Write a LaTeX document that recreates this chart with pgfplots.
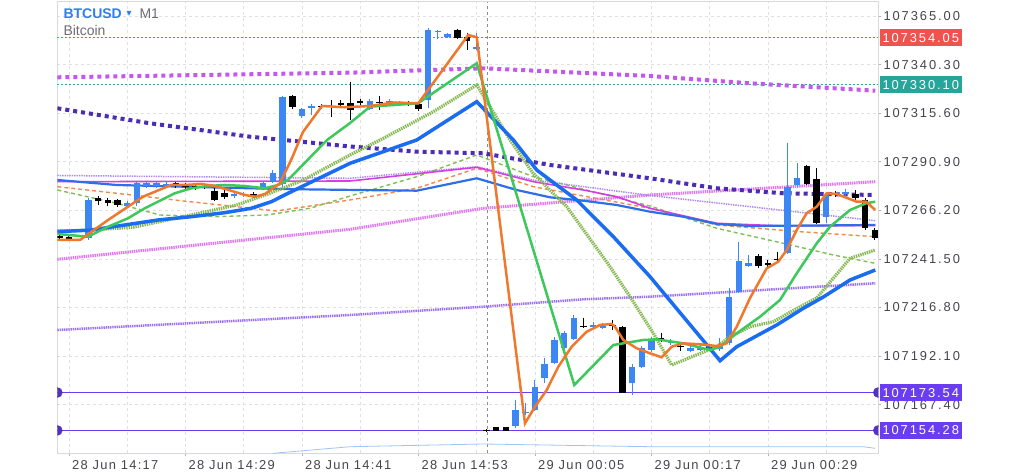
\documentclass[border=0pt]{standalone}
\usepackage{pgfplots}
\pgfplotsset{compat=1.18}
\usepackage{fontspec}
\setmainfont{Liberation Sans}
\newfontfamily\pricefont[LetterSpace=15]{Liberation Sans}
\newfontfamily\timefont[LetterSpace=10]{Liberation Sans}
\newfontfamily\symfont{DejaVu Sans}
\definecolor{cblue}{HTML}{3D87F5}
\definecolor{corange}{HTML}{F0782D}
\definecolor{cgreen}{HTML}{3CC85A}
\definecolor{cgreendot}{HTML}{86B850}
\definecolor{cbluethick}{HTML}{1A6CF0}
\definecolor{cbluethin}{HTML}{2E6FE8}
\definecolor{cmagthin}{HTML}{D43FE0}
\definecolor{clav}{HTML}{AE86F0}
\definecolor{cordash}{HTML}{F08A4B}
\definecolor{cgrdash}{HTML}{7DBF55}
\definecolor{cindigo}{HTML}{4B2CB5}
\definecolor{cmagdot}{HTML}{C655F2}
\definecolor{cpink}{HTML}{DE78EE}
\definecolor{cpurpdot}{HTML}{9C6FF5}
\definecolor{cred}{HTML}{EF5350}
\definecolor{cteal}{HTML}{26A69A}
\definecolor{cpurple}{HTML}{6A3DF0}
\definecolor{clblue}{HTML}{9FC4F7}
\definecolor{tcol}{HTML}{45454D}
\definecolor{tgray}{HTML}{6E6E73}
\definecolor{tblue}{HTML}{2F7EF5}
\setlength{\fboxsep}{3pt}
\newcommand\lab[2]{\colorbox{#1}{\textcolor{white}{\rule[-1pt]{0pt}{11pt}#2}}}
% price offset transformation (keeps full precision of the 107xxx.xx prices)
\makeatletter
\def\btctrafo#1{\pgfutil@in@{Y}{#1}%
  \ifpgfutil@in@\btcfromfpu#1\relax\else\edef\pgfmathresult{\fpeval{#1-107000}}\fi}
\def\btcfromfpu#1Y#2e#3]#4\relax{\edef\pgfmathresult{\fpeval{#2e#3-107000}}}
\makeatother
% candle: t, open, high, low, close
\newcommand\cu[5]{\addplot[cblue,line width=1pt,forget plot] coordinates {(#1,#3) (#1,#4)};
\addplot[cblue,line width=6.5pt,forget plot] coordinates {(#1,#2) (#1,#5)};}
\newcommand\cd[5]{\addplot[black,line width=1pt,forget plot] coordinates {(#1,#3) (#1,#4)};
\addplot[black,line width=6.5pt,forget plot] coordinates {(#1,#2) (#1,#5)};}
\begin{document}
\begin{tikzpicture}
\fill[white] (0pt,0pt) rectangle (1024pt,473pt);
\useasboundingbox (0pt,0pt) rectangle (1024pt,473pt);
\begin{axis}[
 at={(57.3pt,19.7pt)}, anchor=south west,
 scale only axis, width=821pt, height=451.6pt,
 xmin=-1.205, xmax=83.364,
 ymin=107142.64, ymax=107372.27,
 y coord trafo/.code={\btctrafo{#1}},
 axis line style={draw=black!15, line width=0.8pt},
 xtick={0,12,24,36,48,60,72},
 xticklabels={28 Jun 14:17,28 Jun 14:29,28 Jun 14:41,28 Jun 14:53,29 Jun 00:05,29 Jun 00:17,29 Jun 00:29},
 minor xtick={6,18,30,42,54,66,78},
 ytick={107167.40,107192.10,107216.80,107241.50,107266.20,107290.90,107315.60,107340.30,107365.00},
 yticklabels={107167.40,107192.10,107216.80,107241.50,107266.20,107290.90,107315.60,107340.30,107365.00},
 xtick pos=bottom, ytick pos=right, yticklabel pos=right,
 tick align=outside, major tick length=3pt, minor tick length=0pt,
 tick style={draw=black!30, line width=0.6pt},
 grid=both,
 major grid style={draw=black!12, dash pattern=on 3pt off 3pt, line width=0.6pt},
 minor grid style={draw=black!12, dash pattern=on 3pt off 3pt, line width=0.6pt},
 xticklabel style={font=\timefont\fontsize{12.9}{14}\selectfont, text=tcol, anchor=north west, inner sep=0pt, xshift=3pt, yshift=-4pt},
 yticklabel style={font=\pricefont\fontsize{12.9}{14}\selectfont, text=tcol, anchor=west, inner sep=0pt, xshift=2pt},
 extra y ticks={107354.05,107330.10,107173.54,107154.28},
 extra y tick labels={\lab{cred}{107354.05},\lab{cteal}{107330.10},\lab{cpurple}{107173.54},\lab{cpurple}{107154.28}},
 extra y tick style={grid=none, major tick length=0pt, yticklabel style={xshift=-1pt}},
 clip marker paths=true,
]
% horizontal levels
\addplot[cred, line width=1pt, dash pattern=on 2pt off 2pt] coordinates {(-1.205,107354.05) (83.364,107354.05)};
\addplot[cteal, line width=1pt, dash pattern=on 2pt off 2pt] coordinates {(-1.205,107330.10) (83.364,107330.10)};
\addplot[black!45, line width=0.8pt, dash pattern=on 3pt off 3pt] coordinates {(43.06,107142.64) (43.06,107372.27)};
% slow averages
\addplot[cpink, line width=3pt, dash pattern=on 1.4pt off 0.8pt] coordinates {(-1.2,107241.29) (28.95,107256.54) (42.68,107267.22) (59.85,107273.98) (83.05,107280.74)};
\addplot[cpurpdot, line width=2.5pt, dash pattern=on 1.4pt off 0.8pt] coordinates {(-1.2,107205.34) (28.95,107212.96) (42.68,107217.18) (52.98,107220.94) (59.85,107222.27) (83.05,107229.08)};
\addplot[cmagdot, line width=4pt, dash pattern=on 4pt off 4pt] coordinates {(-1.2,107333.83) (28.95,107336.17) (42.68,107338.41) (59.85,107334.49) (70.15,107330.78) (83.05,107327.02)};
\addplot[cindigo, line width=4pt, dash pattern=on 4pt off 4pt] coordinates {(-1.2,107318.07) (8.34,107310.44) (18.64,107303.63) (28.95,107298.65) (35.82,107296.00) (42.68,107295.19) (49.55,107289.24) (59.85,107282.47) (66.72,107277.39) (73.58,107274.85) (83.05,107273.98)};
\addplot[clav, line width=1.5pt, dash pattern=on 1.4pt off 1pt] coordinates {(-1.2,107283.90) (28.95,107282.47) (42.00,107288.37) (47.83,107281.61) (59.85,107273.73) (83.05,107260.92)};
\addplot[cordash, line width=1.4pt, dash pattern=on 4pt off 3pt] coordinates {(-1.2,107278.20) (4.91,107274.85) (11.77,107270.93) (17.27,107268.03) (21.40,107265.85) (28.95,107271.44) (35.82,107277.39) (42.00,107287.56) (47.83,107278.20) (52.98,107273.47) (59.85,107267.22) (66.72,107258.73) (75.30,107255.32) (83.05,107252.78)};
\addplot[cgrdash, line width=1.4pt, dash pattern=on 4pt off 3pt] coordinates {(-1.2,107276.52) (4.91,107269.76) (9.37,107263.81) (15.21,107262.95) (20.36,107263.81) (24.82,107267.22) (28.95,107273.47) (35.82,107283.29) (42.00,107294.32) (47.83,107283.29) (59.85,107268.39) (66.72,107257.05) (73.58,107249.42) (78.73,107243.47) (83.05,107239.25)};
\addplot[cmagthin, line width=1.6pt] coordinates {(-1.2,107280.74) (28.95,107281.10) (42.00,107288.07) (47.83,107280.74) (52.98,107276.52) (56.42,107273.12) (59.85,107267.22) (66.72,107259.59) (73.58,107258.22) (83.05,107258.47)};
\addplot[cbluethin, line width=2.2pt] coordinates {(-1.2,107281.61) (4.91,107279.07) (11.77,107278.20) (18.64,107277.39) (23.79,107276.88) (35.82,107276.17) (42.00,107282.47) (46.12,107276.52) (49.55,107272.81) (52.98,107271.08) (56.42,107268.90) (59.85,107265.49) (63.28,107262.95) (66.72,107259.24) (70.15,107258.22) (83.05,107258.73)};
\addplot[clblue, line width=0.8pt] coordinates {(21.0,107142.50) (21.73,107142.94) (28.95,107145.99) (42.68,107147.37) (59.85,107145.99) (81.79,107145.99) (83.05,107145.18)};
% levels with handles
\addplot[cpurple, line width=1.5pt, mark=*, mark size=4.5pt, mark options={fill=cpurple!80!black, draw=cpurple!80!black}] coordinates {(-1.205,107173.54) (83.364,107173.54)};
\addplot[cpurple, line width=1.5pt, mark=*, mark size=4.5pt, mark options={fill=cpurple!80!black, draw=cpurple!80!black}] coordinates {(-1.205,107154.28) (83.364,107154.28)};
% candles
\cd{-1}{107252.88}{107253.64}{107251.10}{107251.86}
\cd{0}{107252.60}{107253.64}{107251.10}{107251.80}
\cu{2}{107252.12}{107272.46}{107251.10}{107271.44}
\cd{3}{107272.20}{107273.47}{107268.90}{107270.68}
\cd{4}{107271.19}{107272.46}{107268.39}{107269.66}
\cd{5}{107271.44}{107271.95}{107267.88}{107268.90}
\cu{6}{107268.39}{107270.93}{107267.37}{107269.91}
\cu{7}{107269.66}{107280.59}{107268.39}{107279.83}
\cu{8}{107278.56}{107280.59}{107277.54}{107279.83}
\cu{9}{107278.40}{107280.80}{107277.60}{107279.90}
\cu{10}{107278.50}{107281.00}{107277.50}{107279.80}
\cd{11}{107279.83}{107280.59}{107277.54}{107278.56}
\cd{12}{107279.07}{107280.08}{107277.03}{107278.05}
\cd{13}{107278.56}{107279.58}{107276.52}{107277.54}
\cd{14}{107278.30}{107279.60}{107277.00}{107278.00}
\cd{15}{107276.17}{107277.54}{107270.93}{107271.44}
\cd{16}{107275.15}{107276.52}{107271.95}{107272.81}
\cu{17}{107273.22}{107275.51}{107272.46}{107274.49}
\cu{18}{107273.80}{107275.30}{107273.00}{107274.40}
\cd{19}{107274.49}{107275.51}{107272.46}{107273.22}
\cu{20}{107277.39}{107281.10}{107276.52}{107279.93}
\cu{21}{107280.74}{107286.69}{107280.08}{107285.02}
\cu{22}{107279.58}{107324.32}{107277.54}{107323.82}
\cd{23}{107324.32}{107324.83}{107317.71}{107318.58}
\cu{24}{107314.15}{107318.22}{107313.14}{107317.56}
\cu{25}{107318.22}{107320.26}{107314.66}{107319.24}
\cd{26}{107319.40}{107320.26}{107317.71}{107319.00}
\cd{27}{107319.30}{107322.29}{107313.80}{107318.90}
\cd{28}{107320.92}{107322.29}{107318.73}{107319.59}
\cd{29}{107320.76}{107331.60}{107312.12}{107317.20}
\cd{30}{107321.93}{107322.80}{107319.75}{107320.61}
\cu{31}{107317.56}{107322.80}{107317.20}{107321.93}
\cd{32}{107321.40}{107324.32}{107317.20}{107321.00}
\cu{33}{107320.26}{107322.80}{107319.24}{107321.78}
\cu{34}{107320.00}{107322.00}{107319.50}{107321.00}
\cd{35}{107321.00}{107321.80}{107319.20}{107320.00}
\cd{36}{107320.26}{107321.27}{107316.70}{107317.56}
\cu{37}{107322.29}{107358.90}{107318.22}{107357.88}
\cu{38}{107356.87}{107357.88}{107353.31}{107357.53}
\cu{39}{107354.48}{107356.36}{107353.82}{107355.85}
\cd{40}{107357.88}{107358.39}{107353.31}{107353.66}
\cd{41}{107354.48}{107356.36}{107347.71}{107352.44}
\cu{42}{107348.07}{107356.51}{107347.71}{107349.09}
\cd{43}{107154.74}{107154.99}{107153.72}{107153.98}
\cd{44}{107155.86}{107156.01}{107153.98}{107154.13}
\cd{45}{107155.86}{107156.01}{107153.98}{107154.13}
\cu{46}{107156.52}{107169.74}{107155.50}{107164.65}
\cu{47}{107162.88}{107168.21}{107162.11}{107163.64}
\cu{48}{107164.65}{107179.91}{107164.15}{107176.50}
\cu{49}{107180.77}{107191.10}{107178.38}{107187.89}
\cu{50}{107188.71}{107201.78}{107188.04}{107200.25}
\cu{51}{107196.03}{107204.83}{107195.16}{107203.96}
\cu{52}{107200.61}{107212.96}{107200.25}{107211.28}
\cd{53}{107207.60}{107211.44}{107206.35}{107207.20}
\cu{54}{107206.71}{107209.40}{107205.84}{107207.88}
\cu{55}{107206.35}{107208.89}{107205.84}{107207.88}
\cd{56}{107208.13}{107210.42}{107205.33}{107207.37}
\cd{57}{107206.71}{107207.37}{107173.30}{107173.45}
\cu{58}{107178.23}{107188.05}{107172.28}{107186.67}
\cu{59}{107186.67}{107197.20}{107186.01}{107196.03}
\cu{60}{107195.16}{107201.78}{107194.15}{107200.61}
\cd{61}{107201.11}{107203.81}{107199.23}{107200.00}
\cu{62}{107198.72}{107200.76}{107197.71}{107199.74}
\cd{63}{107197.20}{107198.22}{107194.66}{107196.70}
\cu{64}{107194.91}{107197.20}{107194.15}{107196.18}
\cu{65}{107195.16}{107197.71}{107194.66}{107196.69}
\cd{66}{107196.60}{107197.40}{107195.00}{107195.80}
\cu{67}{107195.52}{107201.27}{107194.66}{107197.71}
\cu{68}{107198.57}{107226.69}{107197.71}{107222.27}
\cu{69}{107224.81}{107250.24}{107224.15}{107240.57}
\cu{70}{107237.88}{107243.47}{107237.37}{107239.56}
\cd{71}{107242.96}{107243.98}{107236.86}{107237.88}
\cd{72}{107239.56}{107240.93}{107237.37}{107238.39}
\cd{73}{107241.40}{107245.00}{107239.91}{107241.00}
\cu{74}{107244.64}{107300.58}{107243.98}{107278.20}
\cu{75}{107279.07}{107290.10}{107278.05}{107282.47}
\cd{76}{107288.73}{107289.24}{107279.07}{107279.58}
\cd{77}{107281.97}{107287.56}{107259.24}{107259.90}
\cu{78}{107262.64}{107275.00}{107259.90}{107273.98}
\cd{79}{107275.15}{107276.02}{107272.97}{107273.98}
\cu{80}{107274.49}{107277.03}{107273.47}{107275.66}
\cd{81}{107274.49}{107276.52}{107271.44}{107272.30}
\cd{82}{107271.44}{107272.46}{107256.18}{107257.05}
\cd{83}{107256.18}{107257.20}{107251.10}{107251.96}
% fast averages
\addplot[cgreendot, line width=3.2pt, dash pattern=on 1.4pt off 0.9pt] coordinates {(-1.2,107255.83) (1.13,107255.83) (6.59,107257.56) (11.74,107262.95) (17.27,107268.90) (20.70,107274.85) (24.13,107281.61) (28.95,107294.32) (32.38,107302.81) (37.53,107316.34) (42.00,107329.92) (43.37,107318.88) (45.43,107301.95) (47.80,107285.02) (51.27,107268.03) (55.73,107237.52) (57.79,107222.27) (60.19,107203.65) (62.08,107187.54) (66.72,107196.84) (68.09,107201.93) (70.15,107207.01) (72.55,107209.56) (75.30,107217.18) (77.02,107221.60) (80.45,107241.79) (83.05,107246.02)};
\addplot[cbluethick, line width=3.5pt] coordinates {(-1.2,107255.32) (2.30,107256.18) (5.74,107258.73) (9.17,107261.27) (12.60,107262.95) (16.04,107264.98) (18.78,107267.22) (20.84,107270.57) (22.56,107274.85) (28.95,107290.10) (35.82,107301.95) (42.00,107321.43) (45.77,107301.95) (48.18,107286.69) (52.30,107271.44) (56.07,107252.78) (59.85,107232.44) (67.06,107189.72) (68.78,107196.84) (72.90,107207.88) (75.64,107216.37) (77.70,107222.12) (80.45,107230.76) (83.05,107235.84)};
\addplot[cgreen, line width=2.5pt] coordinates {(-1.2,107254.15) (1.96,107252.78) (4.02,107257.87) (6.08,107262.14) (7.80,107267.22) (9.51,107271.44) (10.89,107274.85) (12.60,107277.39) (14.32,107278.56) (16.04,107279.07) (18.10,107278.56) (20.16,107277.39) (21.53,107279.07) (22.56,107281.61) (26.58,107301.95) (28.95,107310.59) (31.01,107318.88) (35.95,107320.61) (42.00,107340.95) (52.05,107177.37) (56.07,107197.71) (57.10,107198.57) (59.16,107200.25) (60.54,107200.61) (63.25,107198.57) (66.03,107195.16) (67.06,107196.84) (68.78,107203.65) (71.18,107212.10) (73.24,107220.59) (74.96,107234.17) (77.02,107249.42) (78.39,107257.86) (80.45,107266.35) (82.10,107269.76) (83.05,107270.57)};
\addplot[corange, line width=2.5pt] coordinates {(-1.2,107251.10) (1.13,107251.10) (4.02,107261.27) (6.08,107268.03) (7.62,107273.12) (8.86,107275.66) (10.51,107279.07) (11.95,107279.07) (13.60,107279.58) (15.04,107278.56) (16.69,107276.17) (18.13,107273.98) (19.16,107273.12) (20.19,107274.49) (21.01,107277.39) (21.73,107279.93) (22.97,107292.80) (24.10,107306.02) (26.06,107319.24) (28.43,107318.58) (31.01,107319.24) (33.58,107321.02) (35.98,107320.61) (41.13,107355.34) (42.00,107354.17) (46.97,107157.89) (48.00,107166.33) (49.21,107174.83) (50.40,107186.67) (51.78,107196.84) (53.33,107204.47) (54.70,107207.88) (55.90,107208.39) (56.24,107207.01) (57.10,107200.25) (58.48,107196.03) (59.85,107193.48) (61.05,107191.45) (62.08,107196.84) (63.25,107198.57) (65.00,107198.06) (66.72,107197.20) (67.75,107198.57) (68.78,107207.01) (70.15,107221.60) (71.87,107236.71) (73.06,107240.07) (73.93,107246.02) (74.96,107256.18) (75.98,107264.68) (77.02,107268.03) (78.04,107274.85) (79.08,107274.49) (81.14,107270.57) (82.10,107270.57) (83.05,107266.36)};
\end{axis}
\node[anchor=base west, inner sep=0pt, font=\bfseries\fontsize{14}{16}\selectfont, text=tblue] at (63.3pt,454.7pt) {BTCUSD};
\node[anchor=base west, inner sep=0pt, font=\symfont\fontsize{10}{12}\selectfont, text=tblue] at (126.5pt,456pt) {▾};
\node[anchor=base west, inner sep=0pt, font=\fontsize{14}{16}\selectfont, text=tgray] at (139.3pt,454.7pt) {M1};
\node[anchor=base west, inner sep=0pt, font=\fontsize{14}{16}\selectfont, text=tgray] at (63.3pt,437pt) {Bitcoin};
\end{tikzpicture}
\end{document}
